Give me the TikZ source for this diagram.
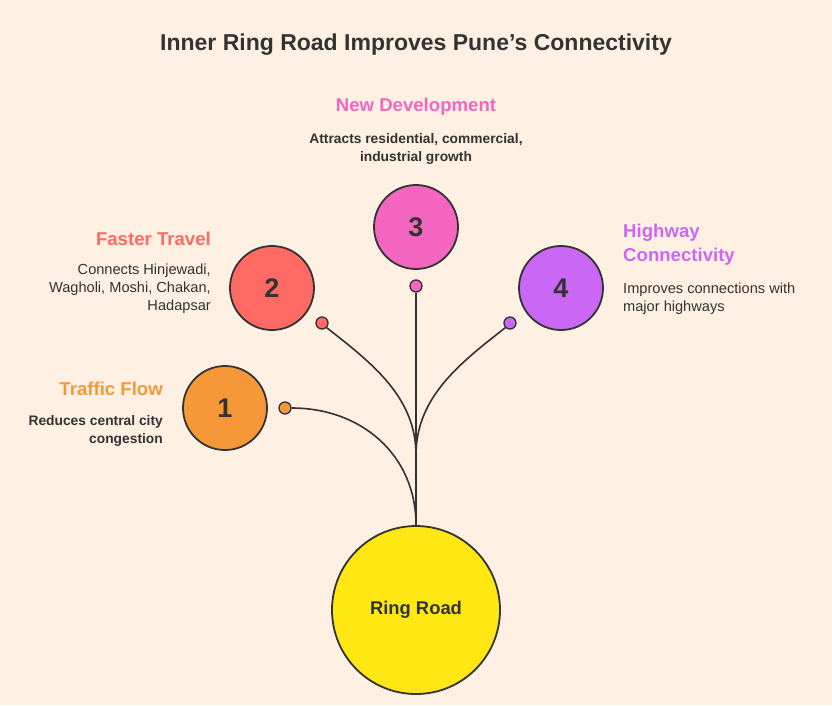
\documentclass[tikz,border=0pt]{standalone}
\usepackage{fontspec}
\setmainfont{Liberation Sans}
\usepackage{xcolor}
\usetikzlibrary{positioning}

\definecolor{bgpeach}{HTML}{FEF0E2}
\definecolor{ink}{HTML}{333333}
\definecolor{cflow}{HTML}{F79838}
\definecolor{ctravel}{HTML}{FF6B64}
\definecolor{cdevel}{HTML}{F466BF}
\definecolor{chighway}{HTML}{CB67F5}
\definecolor{cring}{HTML}{FFE714}

\newcommand{\headfont}{\fontsize{18.6}{24}\selectfont\bfseries}
\newcommand{\bodyfont}{\fontsize{14.6}{18}\selectfont}
\newcommand{\bodybold}{\fontsize{13.8}{18}\selectfont\bfseries}

\tikzset{
  stage/.style={circle,draw=ink,line width=1.8pt,minimum size=84pt,inner sep=0pt,
    text=ink,font=\fontsize{27}{30}\selectfont\bfseries},
  knob/.style={circle,draw=ink,line width=1.3pt,minimum size=12pt,inner sep=0pt},
  link/.style={draw=ink,line width=1.6pt},
}

\begin{document}
\begin{tikzpicture}[x=1pt,y=-1pt]
  \fill[bgpeach] (0,0) rectangle (832,705);
  \useasboundingbox (0,0) rectangle (832,705);

  \node[text=ink,font=\fontsize{23}{26}\selectfont\bfseries] (title) at (416,45)
    {Inner Ring Road Improves Pune's Connectivity};

  % hub and stages
  \node[stage,fill=cring,minimum size=168pt,font=\fontsize{18.4}{20}\selectfont\bfseries] (ring) at (416,610) {Ring Road};
  \node[stage,fill=cflow] (s1) at (225,408) {1};
  \node[stage,fill=ctravel] (s2) at (272,288) {2};
  \node[stage,fill=cdevel] (s3) at (416,227) {3};
  \node[stage,fill=chighway] (s4) at (561,288) {4};

  \node[knob,fill=cflow] (k1) at (285,408) {};
  \node[knob,fill=ctravel] (k2) at (322,323) {};
  \node[knob,fill=cdevel] (k3) at (416,286) {};
  \node[knob,fill=chighway] (k4) at (510,323) {};
  \coordinate (merge) at (416,455);

  % connectors
  \draw[link] (k1.east) to[out=0,in=90,looseness=1.05] (ring.north);
  \draw[link] (k2.south east) to[out=-38,in=90,looseness=0.95] (merge) -- (ring.north);
  \draw[link,line width=1.3pt] (k3.south) -- (ring.north);
  \draw[link] (k4.south west) to[out=-142,in=90,looseness=0.95] (merge);

  % labels
  \node[anchor=east,text=cflow,font=\headfont,inner sep=0pt] (h1) at (163,389) {Traffic Flow};
  \node[anchor=east,text=ink,font=\bodybold,align=right,inner sep=0pt] (b1) at (163,431)
    {Reduces central city\\congestion};

  \node[anchor=east,text=ctravel,font=\headfont,inner sep=0pt] (h2) at (211,239) {Faster Travel};
  \node[anchor=east,text=ink,font=\bodyfont,align=right,inner sep=0pt] (b2) at (211,289)
    {Connects Hinjewadi,\\Wagholi, Moshi, Chakan,\\Hadapsar};

  \node[text=cdevel,font=\headfont,inner sep=0pt] (h3) at (416,107) {New Development};
  \node[text=ink,font=\bodybold,align=center,inner sep=0pt] (b3) at (416,149)
    {Attracts residential, commercial,\\industrial growth};

  \node[anchor=west,text=chighway,font=\headfont,align=left,inner sep=0pt] (h4) at (623,245)
    {Highway\\Connectivity};
  \node[anchor=west,text=ink,font=\bodyfont,align=left,inner sep=0pt] (b4) at (623,299)
    {Improves connections with\\major highways};
\end{tikzpicture}
\end{document}
